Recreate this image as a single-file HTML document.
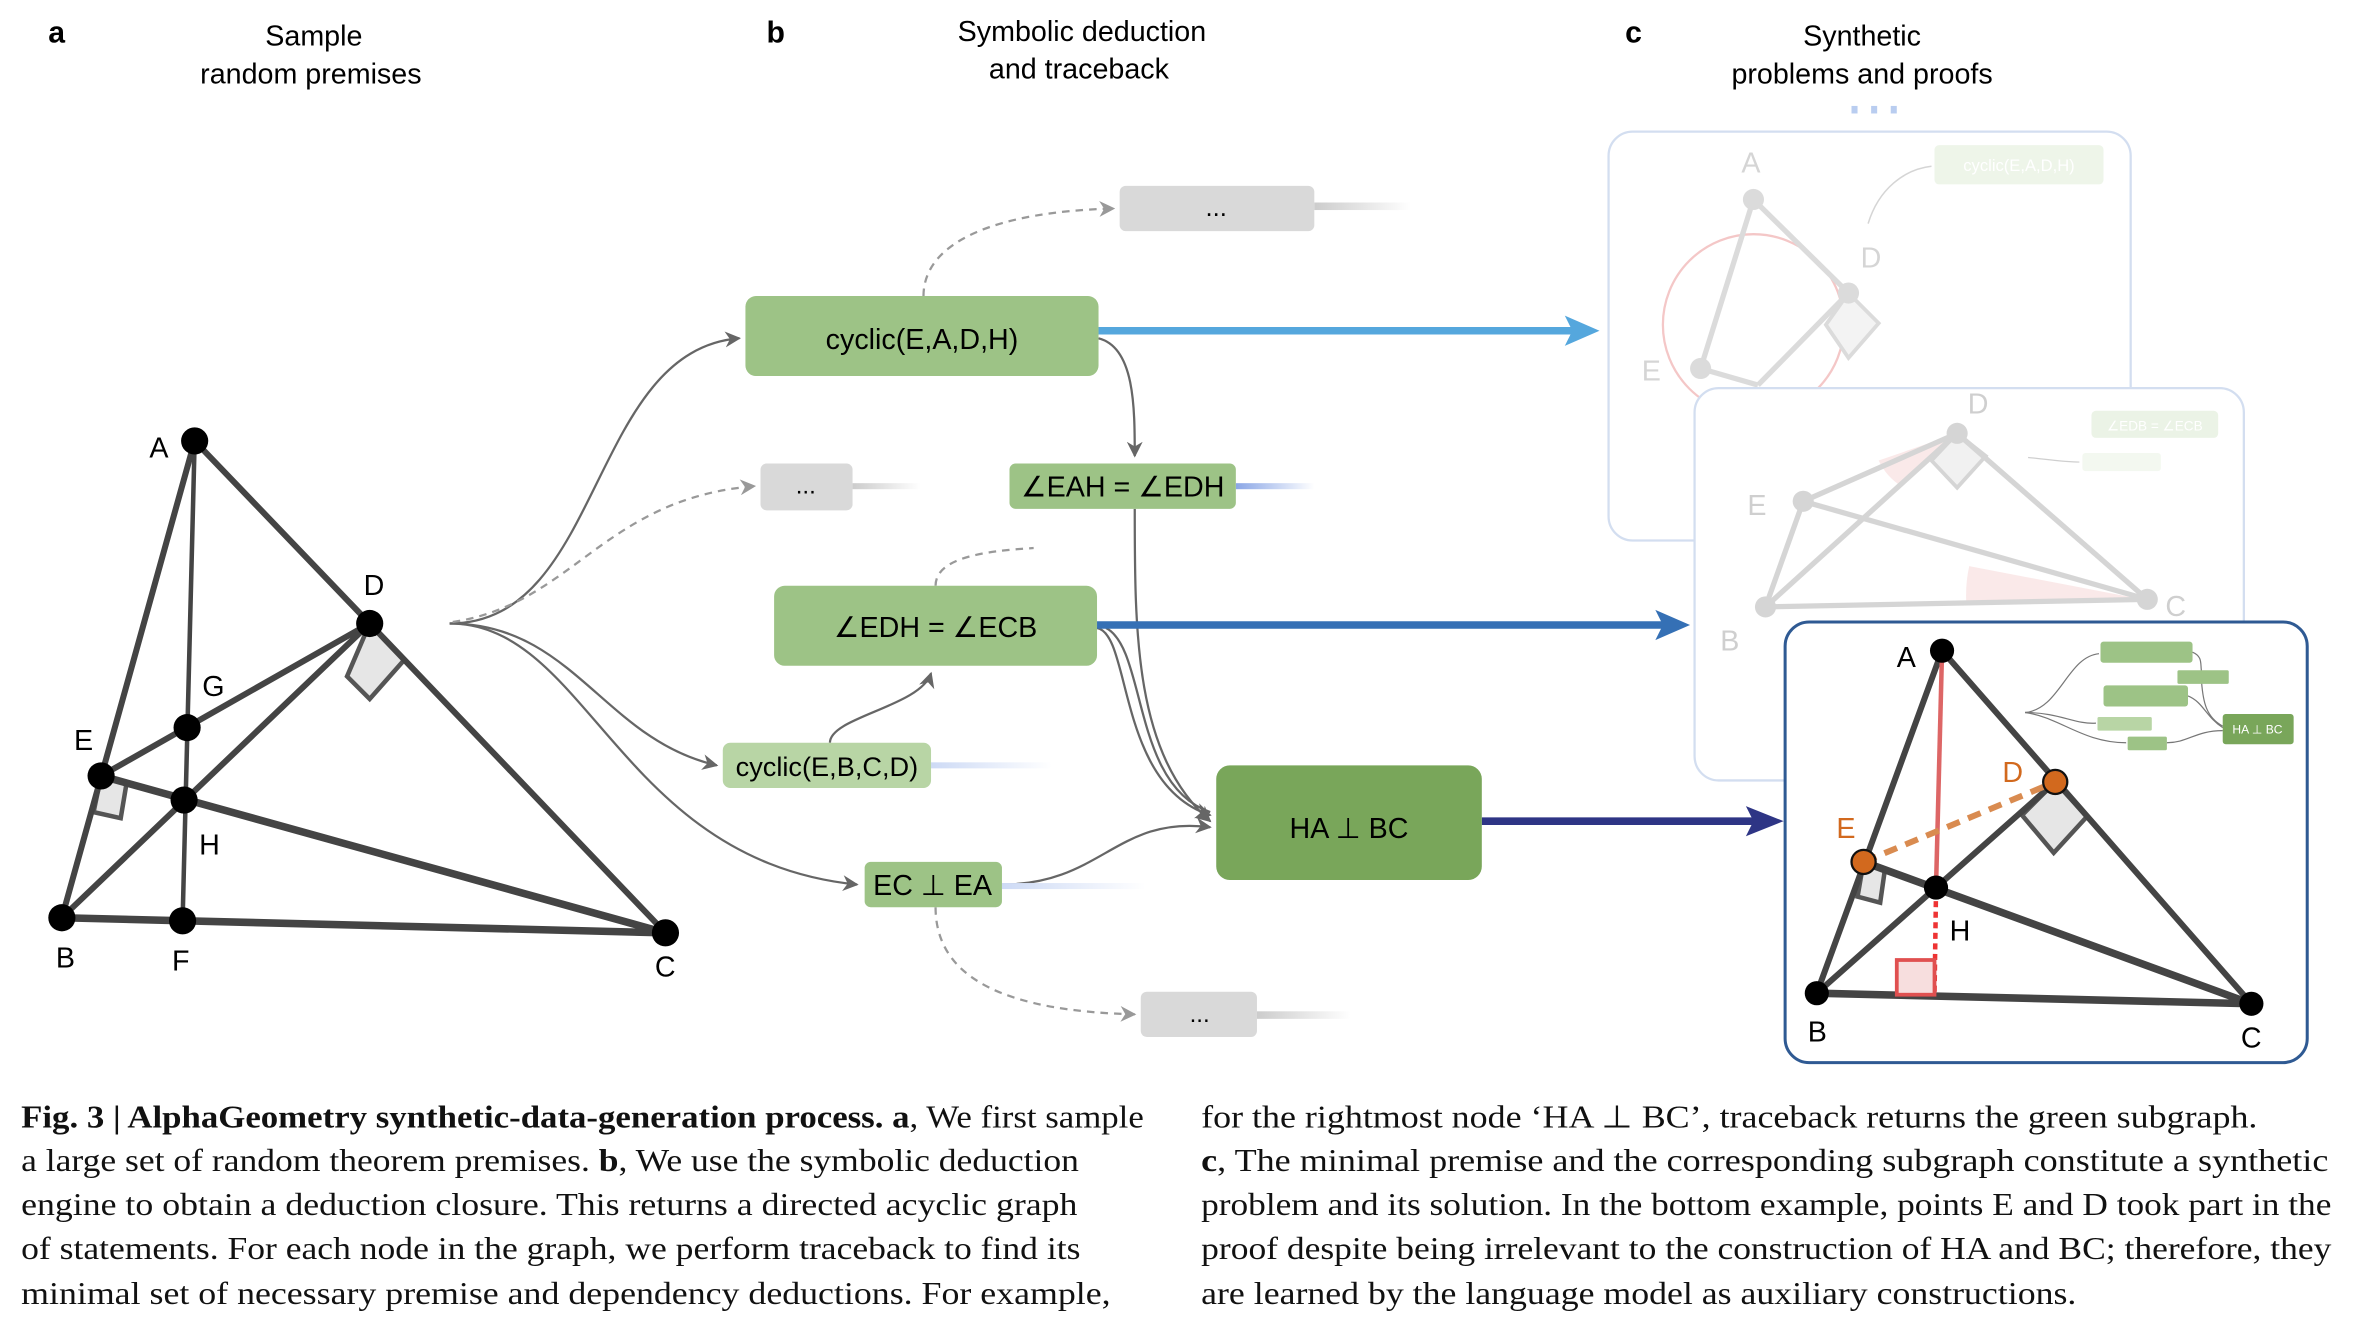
<!DOCTYPE html>
<html><head><meta charset="utf-8"><style>
html,body{margin:0;padding:0;background:#fff}
svg{display:block}
text{font-family:"Liberation Sans",sans-serif}
.cap{font-family:"Liberation Serif",serif;font-size:21px;fill:#111}
</style></head><body>
<svg width="2354" height="1330" viewBox="0 0 1560 881" xmlns="http://www.w3.org/2000/svg">
<defs>
<marker id="ah" viewBox="0 0 10 10" refX="9" refY="5" markerWidth="7" markerHeight="7" orient="auto"><path d="M0,0 L10,5 L0,10 L3,5z" fill="#666"/></marker>
<marker id="ahg" viewBox="0 0 10 10" refX="9" refY="5" markerWidth="7" markerHeight="7" orient="auto"><path d="M0,0 L10,5 L0,10 L3,5z" fill="#999"/></marker>
<linearGradient id="gg" x1="0" x2="1"><stop offset="0" stop-color="#ccc"/><stop offset="1" stop-color="#fff"/></linearGradient>
<linearGradient id="gb" x1="0" x2="1"><stop offset="0" stop-color="#8aa6e6"/><stop offset="1" stop-color="#fff"/></linearGradient>
<linearGradient id="gb2" x1="0" x2="1"><stop offset="0" stop-color="#cddaf5"/><stop offset="1" stop-color="#fff"/></linearGradient>
</defs>

<text x="32" y="28" font-size="20" font-weight="bold">a</text>
<text x="208" y="30" font-size="19" text-anchor="middle">Sample</text>
<text x="206" y="55" font-size="19" text-anchor="middle">random premises</text>
<text x="508" y="28" font-size="20" font-weight="bold">b</text>
<text x="717" y="27" font-size="19" text-anchor="middle">Symbolic deduction</text>
<text x="715" y="52" font-size="19" text-anchor="middle">and traceback</text>
<text x="1077" y="28" font-size="20" font-weight="bold">c</text>
<text x="1234" y="30" font-size="19" text-anchor="middle">Synthetic</text>
<text x="1234" y="55" font-size="19" text-anchor="middle">problems and proofs</text>
<g fill="#b9cdf0"><rect x="1227" y="70" width="4" height="5"/><rect x="1240" y="70" width="4" height="5"/><rect x="1253" y="70" width="4" height="5"/></g>

<g stroke="#444" stroke-width="4" fill="none" stroke-linecap="round">
<path d="M245,413 L230,448 L245,463 L268,437" fill="#e6e6e6" stroke="#555" stroke-width="3"/>
<path d="M67,514 L62,538 L80,542 L84,518" fill="#e6e6e6" stroke="#555" stroke-width="3"/>
<line x1="129" y1="292" x2="41" y2="608"/>
<line x1="129" y1="292" x2="121" y2="610" stroke-width="3"/>
<line x1="129" y1="292" x2="245" y2="413"/>
<line x1="245" y1="413" x2="441" y2="618"/>
<line x1="67" y1="514" x2="245" y2="413"/>
<line x1="41" y1="608" x2="245" y2="413"/>
<line x1="67" y1="514" x2="441" y2="618" stroke-width="5"/>
<line x1="41" y1="608" x2="441" y2="618" stroke-width="5"/>
</g>
<g fill="#000">
<circle cx="129" cy="292" r="9"/><circle cx="245" cy="413" r="9"/><circle cx="124" cy="482" r="9"/>
<circle cx="67" cy="514" r="9"/><circle cx="122" cy="530" r="9"/><circle cx="41" cy="608" r="9"/>
<circle cx="121" cy="610" r="9"/><circle cx="441" cy="618" r="9"/>
</g>
<g font-size="19">
<text x="99" y="303">A</text><text x="241" y="394">D</text><text x="134" y="461">G</text>
<text x="49" y="497">E</text><text x="132" y="566">H</text><text x="37" y="641">B</text>
<text x="114" y="643">F</text><text x="434" y="647">C</text>
</g>

<g fill="none" stroke="#666" stroke-width="1.5">
<path d="M298,413 C400,413 390,232 490,224" marker-end="url(#ah)"/>
<path d="M298,413 C380,413 400,490 475,507" marker-end="url(#ah)"/>
<path d="M298,413 C390,413 410,570 568,586" marker-end="url(#ah)"/>
<path d="M728,224 C752,230 752,270 752,302" marker-end="url(#ah)"/>
<path d="M752,337 C752,420 752,500 802,544" marker-end="url(#ah)"/>
<path d="M727,416 C750,420 740,520 802,540" marker-end="url(#ah)"/>
<path d="M733,416 C760,430 750,520 802,538" />
<path d="M550,492 C550,475 610,468 617,446" marker-end="url(#ah)"/>
<path d="M664,586 C730,586 740,540 802,548" marker-end="url(#ah)"/>
</g>
<g fill="none" stroke="#999" stroke-width="1.5" stroke-dasharray="5,4">
<path d="M612,196 C612,160 660,140 738,138" marker-end="url(#ahg)"/>
<path d="M300,412 C380,400 400,330 500,322" marker-end="url(#ahg)"/>
<path d="M620,388 C620,370 650,365 685,363"/>
<path d="M620,601 C620,650 670,670 752,672" marker-end="url(#ahg)"/>
</g>

<line x1="728" y1="219" x2="1045" y2="219" stroke="#55a7dd" stroke-width="5"/>
<path d="M1037,209 L1060,219 L1037,229 L1042,219z" fill="#55a7dd"/>
<line x1="727" y1="414" x2="1105" y2="414" stroke="#3570b5" stroke-width="5"/>
<path d="M1097,404 L1120,414 L1097,424 L1102,414z" fill="#3570b5"/>
<line x1="982" y1="544" x2="1165" y2="544" stroke="#2e3585" stroke-width="5"/>
<path d="M1157,534 L1182,544 L1157,554 L1162,544z" fill="#2e3585"/>

<rect x="871" y="134" width="64" height="5" fill="url(#gg)"/>
<rect x="565" y="320" width="45" height="4" fill="url(#gg)"/>
<rect x="819" y="320" width="52" height="4" fill="url(#gb)"/>
<rect x="617" y="505" width="80" height="4" fill="url(#gb2)"/>
<rect x="664" y="585" width="95" height="4" fill="url(#gb2)"/>
<rect x="833" y="670" width="62" height="5" fill="url(#gg)"/>

<rect x="742" y="123" width="129" height="30" rx="4" fill="#d9d9d9"/>
<text x="806" y="143" font-size="17" text-anchor="middle">...</text>
<rect x="494" y="196" width="234" height="53" rx="7" fill="#9dc386"/>
<text x="611" y="231" font-size="19" text-anchor="middle">cyclic(E,A,D,H)</text>
<rect x="504" y="307" width="61" height="31" rx="4" fill="#d9d9d9"/>
<text x="534" y="327" font-size="16" text-anchor="middle">...</text>
<rect x="669" y="307" width="150" height="30" rx="4" fill="#9dc386"/>
<text x="744" y="329" font-size="19" text-anchor="middle">∠EAH = ∠EDH</text>
<rect x="513" y="388" width="214" height="53" rx="7" fill="#9dc386"/>
<text x="620" y="422" font-size="19" text-anchor="middle">∠EDH = ∠ECB</text>
<rect x="479" y="492" width="138" height="30" rx="5" fill="#b8d5a5"/>
<text x="548" y="514" font-size="18" text-anchor="middle">cyclic(E,B,C,D)</text>
<rect x="573" y="571" width="91" height="30" rx="4" fill="#9dc386"/>
<text x="618" y="593" font-size="19" text-anchor="middle">EC ⊥ EA</text>
<rect x="806" y="507" width="176" height="76" rx="9" fill="#79a65a"/>
<text x="894" y="555" font-size="19" text-anchor="middle">HA ⊥ BC</text>
<rect x="756" y="657" width="77" height="30" rx="4" fill="#d9d9d9"/>
<text x="795" y="677" font-size="16" text-anchor="middle">...</text>

<rect x="1066" y="87" width="346" height="271" rx="16" fill="#fff" stroke="#d3def0" stroke-width="1.5"/>
<g opacity="0.35">
<circle cx="1162" cy="215" r="60" fill="none" stroke="#e06060" stroke-width="1.5"/>
<g stroke="#999" stroke-width="3.5" fill="none">
<line x1="1162" y1="132" x2="1127" y2="244"/><line x1="1162" y1="132" x2="1225" y2="194"/>
<path d="M1225,194 L1210,215 L1225,237 L1245,214z" stroke-width="2.5" fill="#ddd"/>
<line x1="1225" y1="194" x2="1165" y2="255"/>
<line x1="1127" y1="244" x2="1165" y2="255"/>
</g>
<g fill="#999"><circle cx="1162" cy="132" r="7"/><circle cx="1225" cy="194" r="7"/><circle cx="1127" cy="244" r="7"/></g>
<text x="1154" y="114" font-size="19" fill="#888">A</text>
<text x="1233" y="177" font-size="19" fill="#888">D</text>
<text x="1088" y="252" font-size="19" fill="#888">E</text>
<rect x="1282" y="96" width="112" height="26" rx="3" fill="#cfe3c2"/>
<text x="1338" y="113" font-size="11" fill="#fff" text-anchor="middle">cyclic(E,A,D,H)</text>
<path d="M1238,148 C1245,125 1262,112 1280,110" fill="none" stroke="#888" stroke-width="1"/>
</g>

<rect x="1123" y="257" width="364" height="260" rx="16" fill="#fff" stroke="#d3def0" stroke-width="1.5"/>
<g opacity="0.4">
<path d="M1420,397 L1305,375 A90,90 0 0 0 1303,398z" fill="#f4c9c9"/>
<path d="M1297,287 L1245,305 A40,40 0 0 0 1260,322z" fill="#f4c9c9"/>
<g stroke="#999" stroke-width="3.5" fill="none">
<path d="M1297,287 L1280,305 L1297,323 L1316,302z" stroke-width="2.5" fill="#ddd"/>
<line x1="1297" y1="287" x2="1195" y2="332"/><line x1="1297" y1="287" x2="1423" y2="397"/>
<line x1="1297" y1="287" x2="1170" y2="402"/><line x1="1195" y1="332" x2="1423" y2="397"/>
<line x1="1195" y1="332" x2="1170" y2="402"/><line x1="1170" y1="402" x2="1423" y2="397"/>
</g>
<g fill="#999"><circle cx="1297" cy="287" r="7"/><circle cx="1195" cy="332" r="7"/><circle cx="1170" cy="402" r="7"/><circle cx="1423" cy="397" r="7"/></g>
<text x="1304" y="274" font-size="19" fill="#888">D</text>
<text x="1158" y="341" font-size="19" fill="#888">E</text>
<text x="1140" y="431" font-size="19" fill="#888">B</text>
<text x="1435" y="408" font-size="19" fill="#888">C</text>
<rect x="1386" y="272" width="84" height="18" rx="3" fill="#cfe3c2"/>
<text x="1428" y="285" font-size="9" fill="#fff" text-anchor="middle">∠EDB = ∠ECB</text>
<rect x="1380" y="300" width="52" height="12" rx="2" fill="#e3efdb"/>
<path d="M1344,303 C1355,304 1368,306 1378,306" fill="none" stroke="#888" stroke-width="0.8"/>
</g>

<rect x="1183" y="412" width="346" height="292" rx="16" fill="#fff" stroke="#2f5a93" stroke-width="2"/>
<g stroke="#444" stroke-width="4" fill="none" stroke-linecap="round">
<path d="M1362,518 L1340,540 L1361,565 L1383,541z" fill="#e6e6e6" stroke="#555" stroke-width="3"/>
<path d="M1235,571 L1231,594 L1246,598 L1249,577" fill="#e6e6e6" stroke="#555" stroke-width="3"/>
<line x1="1287" y1="431" x2="1204" y2="658"/>
<line x1="1287" y1="431" x2="1492" y2="665"/>
<line x1="1204" y1="658" x2="1362" y2="518"/>
<line x1="1235" y1="571" x2="1492" y2="665" stroke-width="5"/>
<line x1="1204" y1="658" x2="1492" y2="665" stroke-width="5"/>
</g>
<line x1="1287" y1="431" x2="1283" y2="588" stroke="#d66" stroke-width="3"/>
<line x1="1283" y1="590" x2="1282" y2="660" stroke="#e33" stroke-width="3" stroke-dasharray="4,3"/>
<rect x="1257" y="636" width="25" height="23" fill="#f7dede" stroke="#e05050" stroke-width="2.5"/>
<line x1="1235" y1="571" x2="1362" y2="518" stroke="#d98b50" stroke-width="4" stroke-dasharray="9,6"/>
<g fill="#000"><circle cx="1287" cy="431" r="8"/><circle cx="1283" cy="588" r="8"/><circle cx="1204" cy="658" r="8"/><circle cx="1492" cy="665" r="8"/></g>
<g fill="#d2691e" stroke="#111" stroke-width="1.5"><circle cx="1362" cy="518" r="8"/><circle cx="1235" cy="571" r="8"/></g>
<text x="1257" y="442" font-size="19">A</text>
<text x="1292" y="623" font-size="19">H</text>
<text x="1198" y="690" font-size="19">B</text>
<text x="1485" y="694" font-size="19">C</text>
<text x="1327" y="518" font-size="19" fill="#d2691e">D</text>
<text x="1217" y="555" font-size="19" fill="#d2691e">E</text>
<g fill="none" stroke="#777" stroke-width="0.8">
<path d="M1342,472 C1365,470 1370,435 1391,433"/>
<path d="M1342,472 C1365,472 1375,480 1389,479"/>
<path d="M1342,472 C1365,475 1380,492 1409,492"/>
<path d="M1453,432 C1460,435 1458,440 1459,445"/>
<path d="M1459,452 C1460,465 1462,475 1473,481"/>
<path d="M1436,492 C1450,492 1455,484 1473,484"/>
<path d="M1450,461 C1460,465 1462,475 1473,482"/>
</g>
<g fill="#9dc386">
<rect x="1392" y="425" width="61" height="14" rx="2"/>
<rect x="1443" y="444" width="34" height="9" rx="1"/>
<rect x="1394" y="454" width="56" height="14" rx="2"/>
<rect x="1390" y="475" width="36" height="9" rx="1" fill="#b8d5a5"/>
<rect x="1410" y="488" width="26" height="9" rx="1"/>
<rect x="1473" y="473" width="47" height="20" rx="2" fill="#79a65a"/>
</g>
<text x="1496" y="486" font-size="8" fill="#fff" text-anchor="middle">HA ⊥ BC</text>

<text class="cap" x="14" y="747" textLength="744" lengthAdjust="spacingAndGlyphs"><tspan font-weight="bold">Fig. 3 | AlphaGeometry synthetic-data-generation process. a</tspan>, We first sample</text>
<text class="cap" x="14" y="776" textLength="701" lengthAdjust="spacingAndGlyphs">a large set of random theorem premises. <tspan font-weight="bold">b</tspan>, We use the symbolic deduction</text>
<text class="cap" x="14" y="805" textLength="700" lengthAdjust="spacingAndGlyphs">engine to obtain a deduction closure. This returns a directed acyclic graph</text>
<text class="cap" x="14" y="834" textLength="702" lengthAdjust="spacingAndGlyphs">of statements. For each node in the graph, we perform traceback to find its</text>
<text class="cap" x="14" y="864" textLength="722" lengthAdjust="spacingAndGlyphs">minimal set of necessary premise and dependency deductions. For example,</text>
<text class="cap" x="796" y="747" textLength="700" lengthAdjust="spacingAndGlyphs">for the rightmost node ‘HA ⊥ BC’, traceback returns the green subgraph.</text>
<text class="cap" x="796" y="776" textLength="747" lengthAdjust="spacingAndGlyphs"><tspan font-weight="bold">c</tspan>, The minimal premise and the corresponding subgraph constitute a synthetic</text>
<text class="cap" x="796" y="805" textLength="749" lengthAdjust="spacingAndGlyphs">problem and its solution. In the bottom example, points E and D took part in the</text>
<text class="cap" x="796" y="834" textLength="749" lengthAdjust="spacingAndGlyphs">proof despite being irrelevant to the construction of HA and BC; therefore, they</text>
<text class="cap" x="796" y="864" textLength="580" lengthAdjust="spacingAndGlyphs">are learned by the language model as auxiliary constructions.</text>
</svg>
</body></html>
